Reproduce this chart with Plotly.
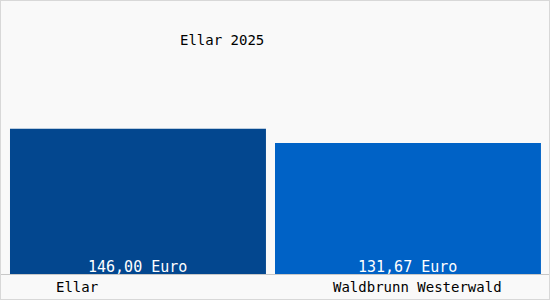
import plotly.graph_objects as go

categories = ["Ellar", "Waldbrunn Westerwald"]
values = [146.00, 131.67]
value_labels = ["146,00 Euro", "131,67 Euro"]
title_text = "Ellar 2025"

colors = ["#03478f", "#0062c6"]
font = "DejaVu Sans Mono"

fig = go.Figure()
fig.add_trace(go.Bar(
    x=categories, y=values,
    width=[0.948, 0.985],
    marker=dict(color=colors, line=dict(width=0)),
    hoverinfo="skip",
))

# value labels at the bottom of each bar
for cat, lab in zip(categories, value_labels):
    fig.add_annotation(text=lab, x=cat, y=0, xref="x", yref="y",
                       yanchor="bottom", xanchor="center", yshift=-4,
                       showarrow=False,
                       font=dict(family=font, size=15, color="white"))

label_x = [77 / 550, 417 / 550]
for cat, lx in zip(categories, label_x):
    fig.add_annotation(text=cat, xref="paper", yref="paper", x=lx, y=0,
                       yshift=-13, yanchor="middle", xanchor="center", showarrow=False,
                       font=dict(family=font, size=14, color="#000"))

fig.add_annotation(text=title_text, xref="paper", yref="paper", x=222 / 550, y=1,
                   yshift=-40, yanchor="middle", xanchor="center", showarrow=False,
                   font=dict(family=font, size=14, color="#000"))

fig.update_layout(
    width=550, height=300,
    margin=dict(l=0, r=0, t=0, b=26),
    paper_bgcolor="#f9f9f9", plot_bgcolor="#f9f9f9",
    showlegend=False,
    xaxis=dict(type="category", range=[-0.511, 1.526], showticklabels=False,
               showgrid=False, zeroline=False, showline=True, linecolor="#c8c8c8",
               linewidth=1, fixedrange=True),
    yaxis=dict(range=[0, 275.6], visible=False, showgrid=False, zeroline=False,
               fixedrange=True),
)

# outer frame around the whole image
fig.add_shape(type="rect", xref="paper", yref="paper",
              x0=0, y0=-26 / 274, x1=1, y1=1,
              line=dict(color="#d8d8d8", width=2), fillcolor="rgba(0,0,0,0)")

fig.write_html("out.html", config={"displayModeBar": False})
